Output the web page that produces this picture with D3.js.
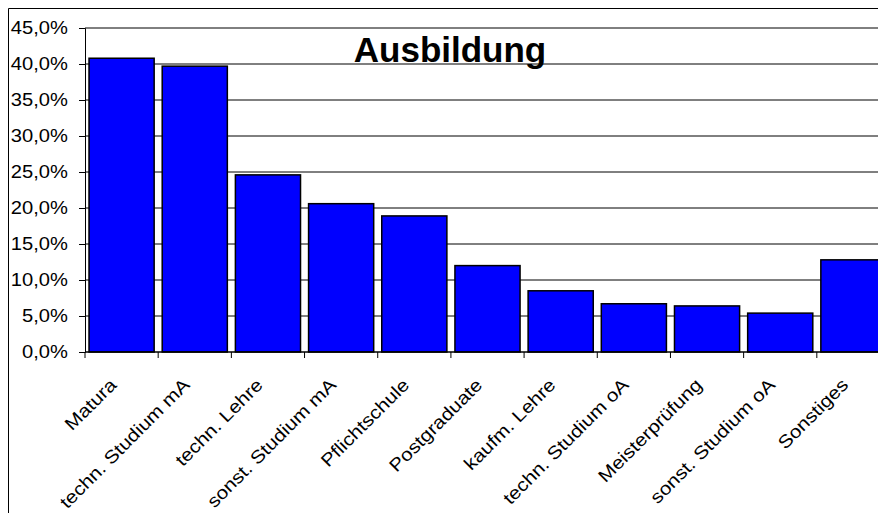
<!DOCTYPE html>
<html>
<head>
<meta charset="utf-8">
<script src="https://cdn.jsdelivr.net/npm/d3@7"></script>
<style>
  html, body { margin: 0; padding: 0; background: #fff; overflow: hidden; }
  svg { display: block; }
  text { font-family: "Liberation Sans", Arial, sans-serif; fill: #000; }
</style>
</head>
<body>
<script>
// Ausbildung - share of respondents per education category
var categories = ["Matura", "techn. Studium mA", "techn. Lehre", "sonst. Studium mA",
    "Pflichtschule", "Postgraduate", "kaufm. Lehre", "techn. Studium oA",
    "Meisterprüfung", "sonst. Studium oA", "Sonstiges"];
var values = [40.8, 39.7, 24.6, 20.6, 18.9, 12.0, 8.5, 6.7, 6.4, 5.4, 12.8];
var yTicks = [0, 5, 10, 15, 20, 25, 30, 35, 40, 45];
var title = "Ausbildung";

var width = 878;
var height = 513;
var plot = {left: 85, right: 890, top: 28, bottom: 352};

var de = d3.formatLocale({decimal: ",", thousands: ".", grouping: [3], currency: ["", "€"]});
var fmt = function (v) { return de.format(".1f")(v) + "%"; };

var svg = d3.select("body").append("svg")
    .attr("width", width)
    .attr("height", height);

// outer chart border (right and bottom are cut off in the picture)
svg.append("path")
    .attr("d", "M8.5," + height + "V8.5H" + width)
    .attr("fill", "none")
    .attr("stroke", "#000")
    .attr("stroke-width", 1);

var x = d3.scaleBand()
    .domain(categories)
    .range([plot.left, plot.right])
    .paddingInner(0.11)
    .paddingOuter(0.055);

var y = d3.scaleLinear()
    .domain([0, 45])
    .range([plot.bottom, plot.top]);

// gridlines
svg.append("g").attr("class", "grid")
    .selectAll("line")
    .data(yTicks.filter(function (d) { return d > 0; }))
    .enter().append("line")
    .attr("x1", plot.left)
    .attr("x2", width)
    .attr("y1", function (d) { return y(d); })
    .attr("y2", function (d) { return y(d); })
    .attr("stroke", "#000")
    .attr("stroke-width", 1);

// bars
svg.append("g").attr("class", "bars")
    .selectAll("rect")
    .data(values)
    .enter().append("rect")
    .attr("x", function (d, i) { return x(categories[i]); })
    .attr("width", x.bandwidth())
    .attr("y", function (d) { return y(d); })
    .attr("height", function (d) { return y(0) - y(d); })
    .attr("fill", "#0000ff")
    .attr("stroke", "#000")
    .attr("stroke-width", 1.5);

// y axis
var yAxis = d3.axisLeft(y)
    .tickValues(yTicks)
    .tickSize(6)
    .tickPadding(10)
    .tickFormat(fmt);
var gy = svg.append("g")
    .attr("transform", "translate(" + plot.left + ",0)")
    .call(yAxis);
gy.select(".domain").attr("stroke", "#000");
// labels are drawn a bit wider than the plain font, like the original
gy.selectAll(".tick text")
    .attr("x", 0)
    .attr("transform", "translate(-17,0) scale(1.12,1)")
    .style("font-size", "18px")
    .style("font-family", "'Liberation Sans', Arial, sans-serif");

// x axis with ticks at category boundaries
var edges = d3.range(categories.length + 1).map(function (i) {
    return plot.left + i * (plot.right - plot.left) / categories.length;
});
var gx = svg.append("g").attr("class", "xaxis");
gx.append("line")
    .attr("x1", plot.left).attr("x2", width)
    .attr("y1", plot.bottom).attr("y2", plot.bottom)
    .attr("stroke", "#000").attr("stroke-width", 1.5);
gx.selectAll("line.tick")
    .data(edges)
    .enter().append("line")
    .attr("class", "tick")
    .attr("x1", function (d) { return d; })
    .attr("x2", function (d) { return d; })
    .attr("y1", plot.bottom)
    .attr("y2", plot.bottom + 6)
    .attr("stroke", "#000");

gx.selectAll("text")
    .data(categories)
    .enter().append("text")
    .attr("text-anchor", "end")
    .style("font-size", "18px")
    .attr("transform", function (d) {
        var cx = x(d) + x.bandwidth() / 2 - 4;
        return "translate(" + cx + "," + (plot.bottom + 34) + ") rotate(-45) scale(1.15,1)";
    })
    .text(function (d) { return d; });

// title
svg.append("text")
    .attr("x", 450)
    .attr("y", 62)
    .attr("text-anchor", "middle")
    .style("font-size", "35px")
    .style("font-weight", "bold")
    .text(title);
</script>
</body>
</html>
